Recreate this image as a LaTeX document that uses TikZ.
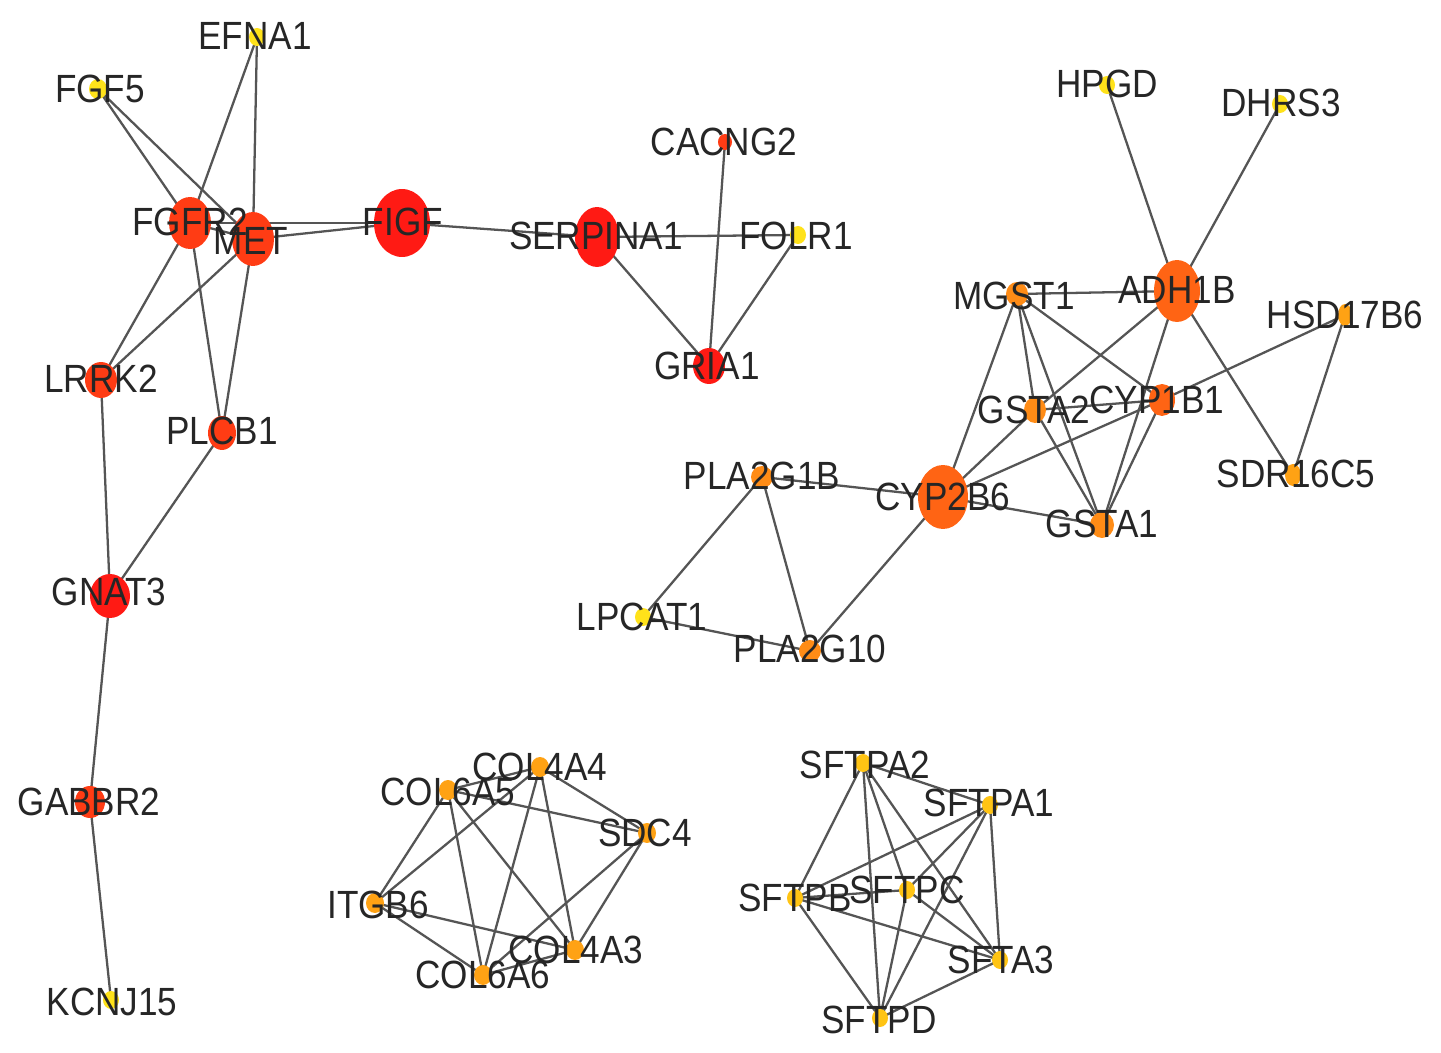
\documentclass[tikz,border=0pt]{standalone}
\usepackage{fontspec}
\setmainfont{Liberation Sans}
\usetikzlibrary{shapes.geometric}
\pgfdeclarelayer{background}
\pgfsetlayers{background,main}
\definecolor{cRed}{HTML}{FF1A14}
\definecolor{cRedOr}{HTML}{FF3C14}
\definecolor{cOr}{HTML}{FF6414}
\definecolor{cOrL}{HTML}{FF8C16}
\definecolor{cAmb}{HTML}{FFA214}
\definecolor{cGold}{HTML}{FFC414}
\definecolor{cYel}{HTML}{FFE21A}
\definecolor{edgec}{HTML}{555555}
\definecolor{txt}{HTML}{262626}
\tikzset{
  dot/.style={ellipse, inner sep=0pt, draw=none},
  lab/.style={inner sep=0pt, text=txt, font=\fontsize{20}{20}\selectfont},
  edge/.style={draw=edgec, line width=1.3pt},
}
\newcommand{\gn}[6]{% name, x, y, rx, ry, colour
  \node[dot, fill=#6, minimum width=#4*0.04cm, minimum height=#5*0.04cm] (#1) at (#2,#3) {};}
\newcommand{\tl}[4]{% name, x, y, text
  \node[lab] (#1) at (#2,#3) {\scalebox{1}[1.12]{#4}};}
\begin{document}
\begin{tikzpicture}[x=0.02cm, y=-0.02cm]
\useasboundingbox (0,0) rectangle (1441,1053);
% ---- nodes (dots)
\gn{EFNA1}{257}{37}{8}{9}{cYel}
\gn{FGF5}{98}{89}{9}{10}{cYel}
\gn{FGFR2}{190}{223}{21}{26}{cRedOr}
\gn{MET}{253}{239}{21}{27}{cRedOr}
\gn{FIGF}{402}{223}{28}{34}{cRed}
\gn{SERPINA1}{597}{237}{22}{30}{cRed}
\gn{CACNG2}{725}{142}{7}{8}{cRedOr}
\gn{FOLR1}{798}{235}{8}{9}{cYel}
\gn{GRIA1}{709}{366}{16}{18}{cRed}
\gn{LRRK2}{101}{380}{16}{18}{cRedOr}
\gn{PLCB1}{222}{433}{14}{17}{cRedOr}
\gn{GNAT3}{110}{596}{20}{22}{cRed}
\gn{GABBR2}{90}{802}{15}{16}{cRedOr}
\gn{KCNJ15}{111}{1000}{8}{9}{cYel}
\gn{HPGD}{1107}{85}{8}{9}{cYel}
\gn{DHRS3}{1280}{104}{8}{9}{cYel}
\gn{ADH1B}{1177}{291}{23}{31}{cOr}
\gn{MGST1}{1017}{294}{11}{12}{cOrL}
\gn{HSD17B6}{1345}{315}{7}{11}{cAmb}
\gn{GSTA2}{1035}{410}{11}{13}{cOrL}
\gn{CYP1B1}{1162}{400}{13}{16}{cOr}
\gn{SDR16C5}{1293}{475}{8}{11}{cAmb}
\gn{CYP2B6}{943}{497}{25}{32}{cOr}
\gn{GSTA1}{1102}{525}{12}{13}{cOrL}
\gn{PLA2G1B}{762}{477}{11}{11}{cOrL}
\gn{LPCAT1}{643}{617}{8}{9}{cYel}
\gn{PLA2G10}{810}{651}{11}{11}{cOrL}
\gn{COL4A4}{540}{767}{9}{10}{cAmb}
\gn{COL6A5}{448}{790}{9}{10}{cAmb}
\gn{SDC4}{647}{833}{9}{10}{cAmb}
\gn{ITGB6}{375}{903}{9}{10}{cAmb}
\gn{COL4A3}{575}{950}{9}{10}{cAmb}
\gn{COL6A6}{483}{975}{9}{10}{cAmb}
\gn{SFTPA2}{863}{763}{8}{9}{cGold}
\gn{SFTPA1}{990}{805}{8}{9}{cGold}
\gn{SFTPB}{795}{898}{8}{9}{cGold}
\gn{SFTPC}{907}{890}{8}{9}{cGold}
\gn{SFTA3}{1000}{960}{8}{9}{cGold}
\gn{SFTPD}{880}{1018}{8}{9}{cGold}
% ---- edges
\begin{pgfonlayer}{background}
\fill[white] (0,0) rectangle (1441,1053);
\foreach \a/\b in {EFNA1/FGFR2, EFNA1/MET, FGF5/FGFR2, FGF5/MET, FGFR2/MET,
  FGFR2/FIGF, MET/FIGF, FGFR2/LRRK2, MET/LRRK2, FGFR2/PLCB1, MET/PLCB1,
  FIGF/SERPINA1, LRRK2/GNAT3, PLCB1/GNAT3, GNAT3/GABBR2, GABBR2/KCNJ15,
  SERPINA1/FOLR1, SERPINA1/GRIA1, CACNG2/GRIA1, FOLR1/GRIA1,
  HPGD/ADH1B, DHRS3/ADH1B, MGST1/ADH1B, MGST1/CYP2B6, MGST1/GSTA2, MGST1/GSTA1,
  MGST1/CYP1B1, ADH1B/GSTA2, ADH1B/GSTA1, ADH1B/SDR16C5, HSD17B6/CYP1B1,
  CYP1B1/CYP2B6, HSD17B6/SDR16C5, GSTA2/CYP1B1, GSTA2/CYP2B6, GSTA2/GSTA1,
  CYP1B1/GSTA1, CYP2B6/GSTA1, CYP2B6/PLA2G1B, CYP2B6/PLA2G10,
  PLA2G1B/LPCAT1, PLA2G1B/PLA2G10, LPCAT1/PLA2G10,
  COL6A5/COL4A4, COL6A5/SDC4, COL6A5/ITGB6, COL6A5/COL6A6, COL6A5/COL4A3,
  COL4A4/SDC4, COL4A4/ITGB6, COL4A4/COL6A6, COL4A4/COL4A3, SDC4/COL4A3,
  SDC4/COL6A6, ITGB6/COL4A3, ITGB6/COL6A6, COL6A6/COL4A3,
  SFTPA2/SFTPA1, SFTPA2/SFTPB, SFTPA2/SFTPC, SFTPA2/SFTA3, SFTPA2/SFTPD,
  SFTPA1/SFTPB, SFTPA1/SFTPC, SFTPA1/SFTA3, SFTPA1/SFTPD, SFTPB/SFTPC,
  SFTPB/SFTA3, SFTPB/SFTPD, SFTPC/SFTPD, SFTPC/SFTA3, SFTA3/SFTPD}
  \draw[edge] (\a.center) -- (\b.center);
\end{pgfonlayer}
% ---- labels
\tl{lEFNA1}{255}{36}{EFNA1}
\tl{lFGF5}{100}{89}{FGF5}
\tl{lFGFR2}{190}{222}{FGFR2}
\tl{lMET}{251}{241}{MET}
\tl{lFIGF}{403}{222}{FIGF}
\tl{lSERPINA1}{596}{236}{SERPINA1}
\tl{lCACNG2}{724}{142}{CACNG2}
\tl{lFOLR1}{796}{236}{FOLR1}
\tl{lGRIA1}{707}{366}{GRIA1}
\tl{lLRRK2}{101}{379}{LRRK2}
\tl{lPLCB1}{222}{431}{PLCB1}
\tl{lGNAT3}{109}{592}{GNAT3}
\tl{lGABBR2}{89}{802}{GABBR2}
\tl{lKCNJ15}{112}{1002}{KCNJ15}
\tl{lHPGD}{1107}{84}{HPGD}
\tl{lDHRS3}{1281}{103}{DHRS3}
\tl{lADH1B}{1177}{290}{ADH1B}
\tl{lMGST1}{1014}{296}{MGST1}
\tl{lHSD17B6}{1345}{315}{HSD17B6}
\tl{lGSTA2}{1034}{410}{GSTA2}
\tl{lCYP1B1}{1157}{400}{CYP1B1}
\tl{lSDR16C5}{1296}{474}{SDR16C5}
\tl{lCYP2B6}{943}{497}{CYP2B6}
\tl{lGSTA1}{1102}{524}{GSTA1}
\tl{lPLA2G1B}{762}{476}{PLA2G1B}
\tl{lLPCAT1}{642}{617}{LPCAT1}
\tl{lPLA2G10}{810}{649}{PLA2G10}
\tl{lCOL4A4}{540}{767}{COL4A4}
\tl{lCOL6A5}{448}{792}{COL6A5}
\tl{lSDC4}{645}{833}{SDC4}
\tl{lITGB6}{378}{905}{ITGB6}
\tl{lCOL4A3}{576}{950}{COL4A3}
\tl{lCOL6A6}{483}{975}{COL6A6}
\tl{lSFTPA2}{865}{765}{SFTPA2}
\tl{lSFTPA1}{989}{803}{SFTPA1}
\tl{lSFTPB}{795}{898}{SFTPB}
\tl{lSFTPC}{907}{890}{SFTPC}
\tl{lSFTA3}{1001}{960}{SFTA3}
\tl{lSFTPD}{879}{1020}{SFTPD}
\end{tikzpicture}
\end{document}
